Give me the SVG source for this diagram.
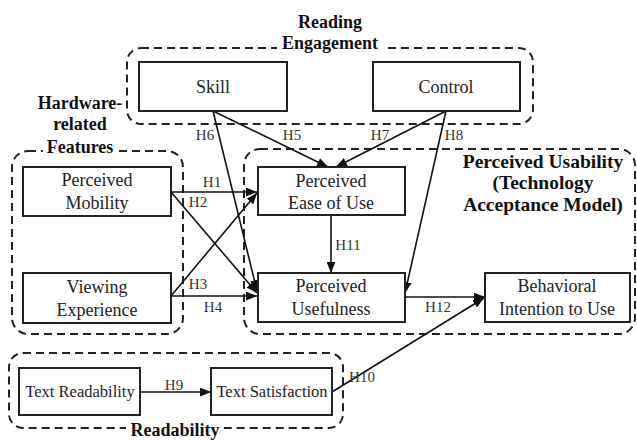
<svg xmlns="http://www.w3.org/2000/svg" width="637" height="441" viewBox="0 0 637 441">
<defs>
<marker id="ah" viewBox="0 0 10 8" refX="10" refY="4" markerWidth="11" markerHeight="9" markerUnits="userSpaceOnUse" orient="auto">
<path d="M0,0 L10,4 L0,8 Z" fill="#111"/>
</marker>
<style>
.box{fill:#fff;stroke:#222;stroke-width:2}
.grp{fill:none;stroke:#222;stroke-width:2;stroke-dasharray:8 5}
.t{font-family:"Liberation Serif",serif;font-size:18px;fill:#222;text-anchor:middle}
.s{font-size:16.5px}
.g{font-family:"Liberation Serif",serif;font-size:18px;font-weight:bold;fill:#111;text-anchor:middle}
.h{font-family:"Liberation Serif",serif;font-size:15px;fill:#333;text-anchor:middle}
.c{stroke:#111;stroke-width:1.6;fill:none;marker-end:url(#ah)}
</style>
</defs>
<rect width="637" height="441" fill="#fff"/>
<g id="groups">
<rect class="grp" x="127" y="48" width="406" height="76" rx="14"/>
<rect class="grp" x="12" y="151" width="171" height="183" rx="16"/>
<rect class="grp" x="244" y="149" width="391" height="185" rx="16"/>
<rect class="grp" x="9" y="353" width="334" height="75" rx="14"/>
<rect x="277" y="36" width="106" height="20" fill="#fff"/>
<rect x="43" y="140" width="74" height="18" fill="#fff"/>
<rect x="126" y="420" width="98" height="21" fill="#fff"/>
<text class="g" x="330" y="28">Reading</text>
<text class="g" x="330" y="49">Engagement</text>
<text class="g" x="80" y="109">Hardware-</text>
<text class="g" x="80" y="130">related</text>
<text class="g" x="80" y="153">Features</text>
<text class="g" x="543" y="168" style="font-size:19.5px">Perceived Usability</text>
<text class="g" x="543" y="189" style="font-size:19.5px">(Technology</text>
<text class="g" x="543" y="211" style="font-size:19.5px">Acceptance Model)</text>
<text class="g" x="175" y="436">Readability</text>
</g>
<g id="connectors">
<line class="c" x1="213" y1="111" x2="328" y2="167"/>
<line class="c" x1="446" y1="111" x2="336" y2="167"/>
<line class="c" x1="446" y1="111" x2="405" y2="293"/>
<line class="c" x1="213" y1="111" x2="257" y2="291"/>
<line class="c" x1="171" y1="192" x2="257" y2="192"/>
<line class="c" x1="171" y1="192" x2="257" y2="293"/>
<line class="c" x1="171" y1="296" x2="257" y2="193"/>
<line class="c" x1="171" y1="296" x2="257" y2="296"/>
<line class="c" x1="331" y1="215" x2="331" y2="273"/>
<line class="c" x1="405" y1="297" x2="485" y2="297"/>
<line class="c" x1="332" y1="392" x2="484" y2="298"/>
<line class="c" x1="140" y1="392" x2="211" y2="392"/>
<text class="h" x="205" y="140">H6</text>
<text class="h" x="292" y="140">H5</text>
<text class="h" x="380" y="140">H7</text>
<text class="h" x="454" y="140">H8</text>
<text class="h" x="212" y="187">H1</text>
<text class="h" x="198" y="207">H2</text>
<text class="h" x="198" y="289">H3</text>
<text class="h" x="213" y="312">H4</text>
<text class="h" x="348" y="250">H11</text>
<text class="h" x="438" y="312">H12</text>
<text class="h" x="362" y="382">H10</text>
<text class="h" x="174" y="390">H9</text>
</g>
<g id="skill"><rect class="box" x="139" y="62" width="148" height="49"/><text class="t" x="213" y="93">Skill</text></g>
<g id="control"><rect class="box" x="373" y="62" width="147" height="49"/><text class="t" x="446" y="93">Control</text></g>
<g id="mobility"><rect class="box" x="23" y="167" width="148" height="49"/><text class="t" x="97" y="186">Perceived</text><text class="t" x="97" y="209">Mobility</text></g>
<g id="viewing"><rect class="box" x="23" y="273" width="148" height="50"/><text class="t" x="97" y="293">Viewing</text><text class="t" x="97" y="316">Experience</text></g>
<g id="peou"><rect class="box" x="258" y="167" width="147" height="48"/><text class="t" x="331" y="187">Perceived</text><text class="t" x="331" y="209">Ease of Use</text></g>
<g id="pu"><rect class="box" x="258" y="273" width="147" height="49"/><text class="t" x="331" y="292">Perceived</text><text class="t" x="331" y="315">Usefulness</text></g>
<g id="bi"><rect class="box" x="485" y="273" width="145" height="49"/><text class="t" x="557" y="292">Behavioral</text><text class="t" x="557" y="315">Intention to Use</text></g>
<g id="textread"><rect class="box" x="19" y="368" width="121" height="47"/><text class="t s" x="80" y="397">Text Readability</text></g>
<g id="textsat"><rect class="box" x="211" y="368" width="121" height="47"/><text class="t s" x="272" y="397">Text Satisfaction</text></g>
</svg>
